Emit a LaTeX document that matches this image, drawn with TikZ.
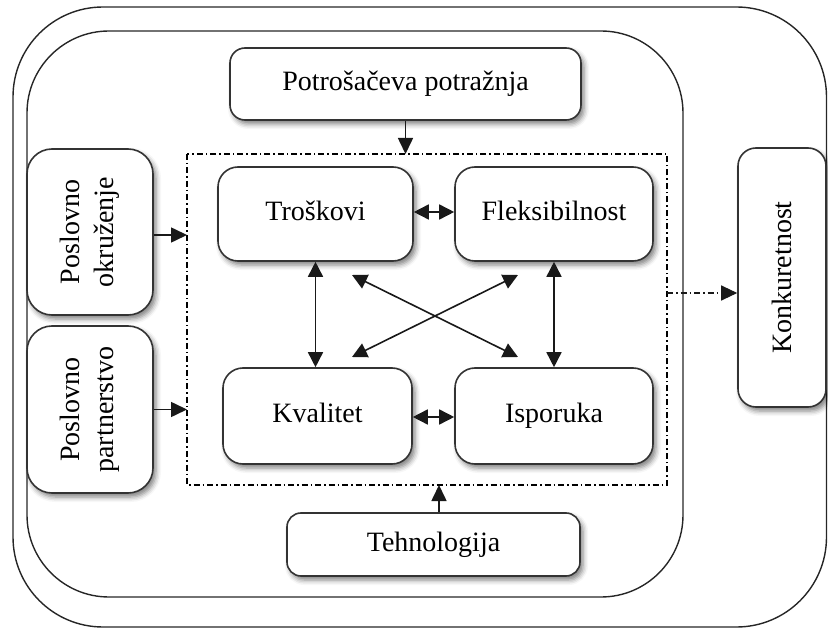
\documentclass[tikz,border=0pt]{standalone}
\usepackage{fontspec}
\setmainfont{Liberation Serif}
\usepackage{graphicx}
\usetikzlibrary{arrows.meta,shadows.blur,calc}
\begin{document}
\begin{tikzpicture}[x=1pt,y=-1pt,
  box/.style={draw=black!80, line width=1.6pt, fill=white, rounded corners=20pt,
    inner sep=0pt, align=center,
    font=\fontsize{28}{34}\selectfont,
    blur shadow={shadow xshift=3pt, shadow yshift=-4pt, shadow blur radius=5pt, shadow opacity=50}},
  hbox/.style={box, text height=19pt, text depth=6pt},
  frame/.style={draw=black!85, line width=1.4pt},
  dashbox/.style={draw=black, line width=1.1pt, dash pattern=on 6pt off 3pt on 1.5pt off 3pt},
  arr/.style={draw=black!90, line width=1.6pt, -{Triangle[length=16pt,width=15pt]}},
  darr/.style={draw=black!90, line width=1.6pt, {Triangle[length=15pt,width=15pt]}-{Triangle[length=15pt,width=15pt]}}
]
\useasboundingbox (0,0) rectangle (828,628);
% outer frames
\draw[frame, rounded corners=90pt] (13,7) rectangle (826.5,627);
\draw[frame, rounded corners=82pt] (27,31) rectangle (683,597);
% dash-dot region
\draw[dashbox] (187,154) rectangle (667,485);
\coordinate (dnw) at (187,154);
\coordinate (dse) at (667,485);
% boxes
\node[hbox] (tr) at (315.5,214) [minimum width=195pt, minimum height=94pt] {Troškovi};
\node[hbox] (fl) at (554,214) [minimum width=198pt, minimum height=94pt] {Fleksibilnost};
\node[hbox] (kv) at (317.5,416) [minimum width=189pt, minimum height=96pt] {Kvalitet};
\node[hbox] (is) at (554,416) [minimum width=198pt, minimum height=96pt] {Isporuka};
\node[hbox, rounded corners=15pt] (pp) at (405.5,84) [minimum width=351pt, minimum height=72pt] {Potrošačeva potražnja};
\node[hbox, rounded corners=14pt] (te) at (433.5,544.5) [minimum width=293pt, minimum height=63pt] {Tehnologija};
\node[box, rounded corners=25pt] (po) at (90,232) [minimum width=126pt, minimum height=166pt]
  {\rotatebox{90}{\begin{tabular}{@{}c@{}}Poslovno\\okruženje\end{tabular}}};
\node[box, rounded corners=25pt] (pa) at (90,409.5) [minimum width=126pt, minimum height=167pt]
  {\rotatebox{90}{\begin{tabular}{@{}c@{}}Poslovno\\partnerstvo\end{tabular}}};
\node[box, rounded corners=18pt] (ko) at (782,277.5) [minimum width=88pt, minimum height=259pt]
  {\rotatebox{90}{Konkuretnost}};
% arrows into the region
\draw[arr] (pp.south) -- (pp.south |- dnw);
\draw[arr] ([xshift=5.5pt]te.north) -- ([xshift=5.5pt]te.north |- dse);
\draw[arr] ([yshift=-3pt]po.east) -- ([yshift=-3pt]po.east -| dnw);
\draw[arr] (pa.east) -- (pa.east -| dnw);
% to Konkuretnost
\coordinate (kout) at (667,293);
\draw[arr, dash pattern=on 6pt off 3pt on 1.5pt off 3pt, line width=1.1pt] (kout) -- (kout -| ko.west);
% inner relations
\draw[darr] ([yshift=2pt]tr.east) -- ([yshift=2pt]tr.east -| fl.west);
\draw[darr] ([yshift=-1pt]kv.east) -- ([yshift=-1pt]kv.east -| is.west);
\draw[darr] (tr.south) -- (tr.south |- kv.north);
\draw[darr] (fl.south) -- (fl.south |- is.north);
\coordinate (c1) at (352,275);
\coordinate (c2) at (518,357);
\coordinate (c3) at (352,357);
\coordinate (c4) at (518,275);
\draw[darr] (c1) -- (c2);
\draw[darr] (c3) -- (c4);
\end{tikzpicture}
\end{document}
